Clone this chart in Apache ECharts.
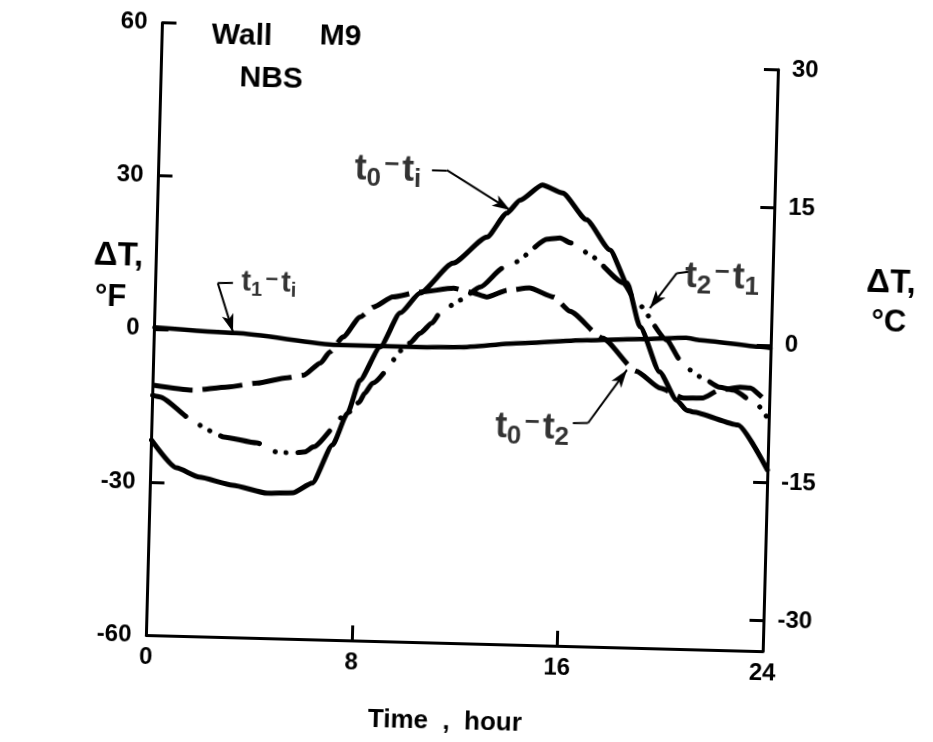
<!DOCTYPE html>
<html>
<head>
<meta charset="utf-8">
<script src="https://cdn.jsdelivr.net/npm/echarts@6/dist/echarts.min.js"></script>
<style>
html,body{margin:0;padding:0;background:#fff;overflow:hidden;width:933px;height:742px;}
#c{position:absolute;left:0;top:0;width:933px;height:742px;transform:rotate(1.5deg);transform-origin:455px 330px;}
</style>
</head>
<body>
<div id="c"></div>
<script>
const FONT = '"Liberation Sans", Arial, Helvetica, sans-serif';

// tick values
const xTicks = [0, 8, 16, 24];
const fTicks = [-60, -30, 0, 30, 60];
const cTicks = [-30, -15, 0, 15, 30];

// series: [hour, deltaT in °F]
const t0_ti = [[0,-21.8],[1.0,-27.1],[1.9,-28.8],[3.2,-30.2],[4.55,-31.6],[5.55,-31.4],[6.3,-29.4],[7.05,-21.8],[7.6,-15.5],[8.05,-9.0],[8.8,-2.4],[9.55,4.4],[10.3,8.4],[11.55,14.4],[12.85,19.7],[13.6,24.5],[14.1,27.1],[14.95,30.2],[15.75,28.7],[16.7,23.6],[17.65,17.8],[18.35,11.4],[18.9,2.9],[19.7,-5.8],[20.4,-11.3],[20.8,-13.2],[21.05,-13.5],[22.8,-15.8],[24,-24.5]];
const t1_ti = [[0,0.3],[3.2,-0.4],[7.1,-2.2],[10.35,-2.2],[11.9,-2.0],[14.25,-0.9],[16.85,0.0],[18.9,0.5],[20.7,1.0],[21.25,0.6],[23.6,-0.4],[24,-0.6]];
const t0_t2 = [[0,-11.0],[1.55,-11.8],[2.9,-11.0],[4.05,-10.1],[5.2,-8.9],[5.85,-8.3],[6.5,-5.8],[6.85,-3.6],[7.35,-0.6],[8.0,3.4],[8.5,5.4],[9.25,7.5],[10.3,8.6],[11.6,9.5],[12.25,8.85],[12.9,7.95],[13.7,9.4],[14.55,9.95],[15.5,8.3],[16.15,5.6],[17.45,0.5],[18.8,-5.8],[19.75,-9.0],[20.65,-10.8],[21.4,-10.7],[22.05,-9.1],[22.85,-8.4],[23.25,-8.5],[23.9,-10.8],[24,-11.2]];
const t2_t1 = [[0,-13.0],[0.3,-13.3],[1.6,-17.7],[2.0,-19.0],[2.45,-20.1],[2.8,-20.8],[4.1,-21.8],[4.9,-23.5],[5.5,-23.6],[6.0,-23.3],[6.3,-22.3],[7.6,-15.5],[8.05,-13.3],[8.25,-11.5],[8.55,-9.5],[9.95,-1.45],[10.35,0.55],[10.8,2.6],[11.1,4.6],[11.85,7.2],[12.65,9.9],[13.5,13.7],[13.9,14.75],[15.2,19.6],[15.7,19.9],[16.1,19.0],[16.5,18.0],[16.85,16.7],[18.2,11.4],[18.75,7.6],[19.95,0.45],[20.5,-3.4],[20.9,-5.3],[21.3,-6.6],[22.05,-8.5],[22.6,-9.0],[23.55,-11.8],[23.95,-14.1],[24,-14.5]];

// curve annotations [hour, °F]
const labelTexts = [
  '{t|t}{s|0}{m|−}{t|t}{s|i}',
  '{t2|t}{s2|1}{m2|−}{t2|t}{s2|i}',
  '{t|t}{s|0}{m|−}{t|t}{s|2}',
  '{t|t}{s|2}{m|−}{t|t}{s|1}'
];
const labelPos = [[8.93,31.9],[4.41,9.2],[14.8,-17.9],[22.04,12.5]];
const leaderStart = [[10.64,32.6],[3.01,9.4],[16.38,-16.3],[20.72,13.9]];
const leaderBend = [[11.22,32.6],[2.42,9.3],[16.97,-16.2],[20.27,13.6]];
const leaderTip = [[13.72,25.1],[3.06,-0.2],[18.43,-5.6],[19.26,6.6]];

const black = '#000';
const lblStyle = {fontFamily: FONT, fontSize: 24, fontWeight: 'bold', color: black};

const leaderData = [];
for (let i = 0; i < labelPos.length; i++) {
  leaderData.push([{coord: leaderStart[i], symbol: 'none'}, {coord: leaderBend[i], symbol: 'none'}]);
  leaderData.push([{coord: leaderBend[i], symbol: 'none'}, {coord: leaderTip[i], symbol: 'arrow'}]);
}

const lineBase = {type: 'line', xAxisIndex: 0, yAxisIndex: 0, symbol: 'none', showSymbol: false,
  smooth: 0.2, smoothMonotone: 'x', silent: true, animation: false, z: 3};

const chart = echarts.init(document.getElementById('c'), null, {renderer: 'canvas'});
chart.setOption({
  backgroundColor: '#fff',
  animation: false,
  textStyle: {fontFamily: FONT},
  grid: [
    {left: 154.5, right: 162, top: 30.6, bottom: 99, containLabel: false, outerBoundsMode: 'none'},
    {left: 154.5, right: 162, top: 61.2, bottom: 99, containLabel: false, outerBoundsMode: 'none'}
  ],
  xAxis: [
    {gridIndex: 0, type: 'value', min: xTicks[0], max: xTicks[xTicks.length-1], interval: 8,
      axisLine: {show: true, onZero: false, lineStyle: {color: black, width: 3}},
      axisTick: {show: true, inside: true, length: 15, lineStyle: {color: black, width: 3}},
      axisLabel: Object.assign({margin: 10}, lblStyle),
      splitLine: {show: false}},
    {gridIndex: 1, type: 'value', min: 0, max: 24, show: false}
  ],
  yAxis: [
    {gridIndex: 0, type: 'value', position: 'left', min: fTicks[0], max: fTicks[fTicks.length-1], interval: 30,
      axisLine: {show: true, onZero: false, lineStyle: {color: black, width: 3}},
      axisTick: {show: true, inside: true, length: 14, lineStyle: {color: black, width: 3}},
      axisLabel: Object.assign({margin: 15}, lblStyle),
      splitLine: {show: false}},
    {gridIndex: 1, type: 'value', position: 'right', min: -100/3, max: 30,
      axisLine: {show: true, onZero: false, lineStyle: {color: black, width: 3}},
      axisTick: {show: true, inside: true, length: 14, customValues: cTicks, lineStyle: {color: black, width: 3}},
      axisLabel: Object.assign({margin: 14, customValues: cTicks}, lblStyle),
      splitLine: {show: false}}
  ],
  series: [
    Object.assign({}, lineBase, {name: 't0 − ti', data: t0_ti,
      lineStyle: {color: black, width: 5, type: 'solid', cap: 'round', join: 'round'}}),
    Object.assign({}, lineBase, {name: 't1 − ti', data: t1_ti,
      lineStyle: {color: black, width: 4.5, type: 'solid', cap: 'round'}}),
    Object.assign({}, lineBase, {name: 't0 − t2', data: t0_t2,
      lineStyle: {color: black, width: 5, type: [40, 10], cap: 'butt'}}),
    Object.assign({}, lineBase, {name: 't2 − t1', data: t2_t1,
      lineStyle: {color: black, width: 5, type: [40, 17, 0.1, 11, 0.1, 12], cap: 'round'}}),
    {
      type: 'scatter', xAxisIndex: 0, yAxisIndex: 0, silent: true, animation: false, z: 5,
      symbolSize: 0,
      data: labelPos.map((p, i) => ({value: p, label: {formatter: labelTexts[i]}})),
      label: {
        show: true, position: 'inside', color: black,
        rich: {
          t: {fontFamily: FONT, fontSize: 36, fontWeight: 'bold', lineHeight: 40, verticalAlign: 'top', color: black},
          s: {fontFamily: FONT, fontSize: 26, fontWeight: 'bold', lineHeight: 24, verticalAlign: 'bottom', color: black},
          m: {fontFamily: FONT, fontSize: 26, fontWeight: 'bold', lineHeight: 40, verticalAlign: 'top', color: black, padding: [0, 3, 0, 3]},
          t2: {fontFamily: FONT, fontSize: 29, fontWeight: 'bold', lineHeight: 32, verticalAlign: 'top', color: black},
          s2: {fontFamily: FONT, fontSize: 20, fontWeight: 'bold', lineHeight: 19, verticalAlign: 'bottom', color: black},
          m2: {fontFamily: FONT, fontSize: 22, fontWeight: 'bold', lineHeight: 32, verticalAlign: 'top', color: black, padding: [0, 3, 0, 3]}
        }
      },
      markLine: {
        silent: true, animation: false,
        symbol: ['none', 'arrow'], symbolSize: [9, 18],
        label: {show: false},
        emphasis: {disabled: true},
        lineStyle: {color: black, width: 2, type: 'solid'},
        data: leaderData
      }
    }
  ],
  graphic: [
    {type: 'text', x: 204, y: 42, style: {text: 'Wall', fontFamily: FONT, fontSize: 30, fontWeight: 'bold', fill: black, align: 'left', verticalAlign: 'middle'}},
    {type: 'text', x: 312, y: 39.5, style: {text: 'M9', fontFamily: FONT, fontSize: 30, fontWeight: 'bold', fill: black, align: 'left', verticalAlign: 'middle'}},
    {type: 'text', x: 233, y: 84, style: {text: 'NBS', fontFamily: FONT, fontSize: 30, fontWeight: 'bold', fill: black, align: 'left', verticalAlign: 'middle'}},
    {type: 'text', x: 92, y: 265, style: {text: 'ΔT,', fontFamily: FONT, fontSize: 33, fontWeight: 'bold', fill: black, align: 'left', verticalAlign: 'middle'}},
    {type: 'text', x: 94, y: 306, style: {text: '°F', fontFamily: FONT, fontSize: 31, fontWeight: 'bold', fill: black, align: 'left', verticalAlign: 'middle'}},
    {type: 'text', x: 865, y: 272, style: {text: 'ΔT,', fontFamily: FONT, fontSize: 33, fontWeight: 'bold', fill: black, align: 'left', verticalAlign: 'middle'}},
    {type: 'text', x: 871, y: 311, style: {text: '°C', fontFamily: FONT, fontSize: 31, fontWeight: 'bold', fill: black, align: 'left', verticalAlign: 'middle'}},
    {type: 'text', x: 378, y: 722, style: {text: 'Time  ,  hour', fontFamily: FONT, fontSize: 26, fontWeight: 'bold', fill: black, align: 'left', verticalAlign: 'middle'}}
  ]
});
</script>
</body>
</html>
